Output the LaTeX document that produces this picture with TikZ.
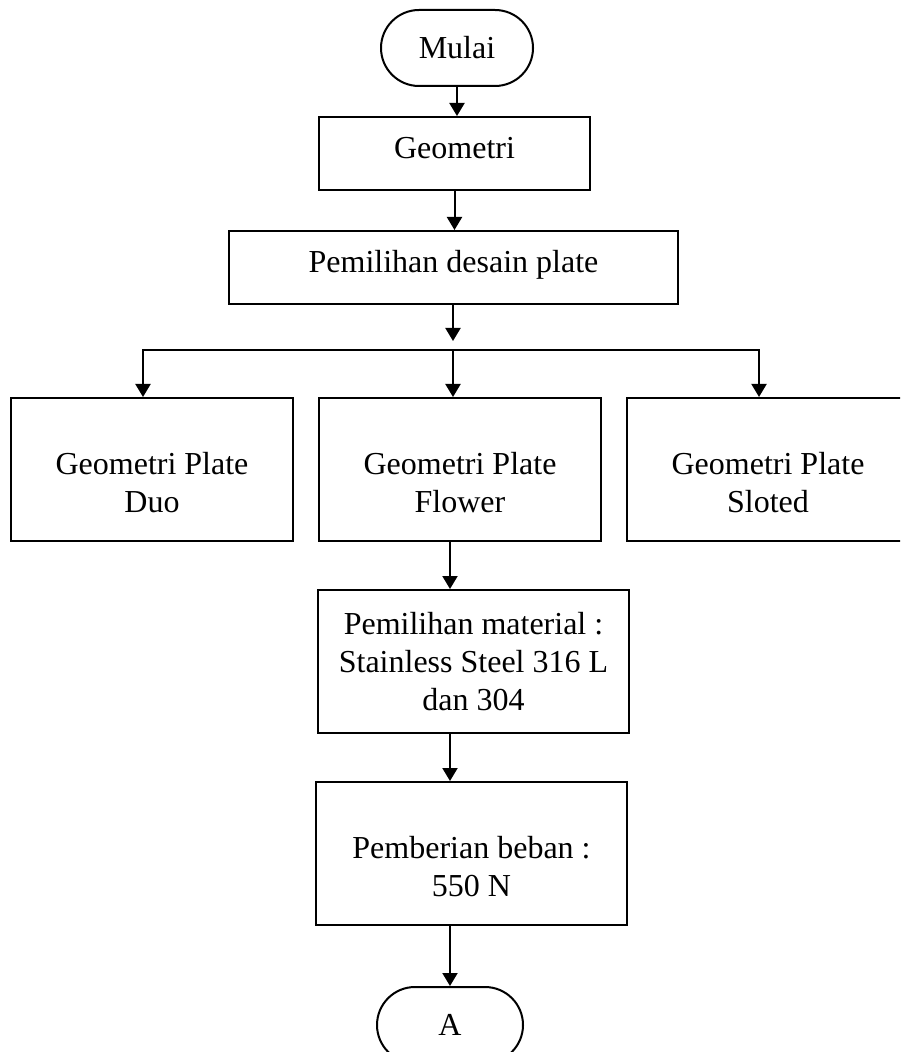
\documentclass[tikz,border=0pt]{standalone}
\usepackage{fontspec}
\setmainfont{Liberation Serif}
\usetikzlibrary{arrows.meta}
\newcommand{\topgap}{\rule{0pt}{24pt}}
\begin{document}
\begin{tikzpicture}[x=0.5pt, y=-0.5pt,
        font=\fontsize{16}{19}\selectfont,
        flowbox/.style={draw, line width=1pt, align=center, inner sep=0pt},
        oneline/.style={flowbox, minimum height=36.5pt, text height=11pt, text depth=6pt},
        twoline/.style={flowbox, minimum width=141pt, minimum height=71.5pt},
        terminal/.style={flowbox, rounded corners=19pt, minimum height=38pt},
        arr/.style={line width=1pt, -{Triangle[length=6.5pt, width=7.5pt]}}]
    \clip (0,0) rectangle (900,1052);

    % Start and first steps
    \node[terminal, minimum width=76pt] (mulai) at (457,48) {Mulai};
    \node[oneline, minimum width=135.5pt] (geometri) at (454.5,153.5) {Geometri};
    \node[oneline, minimum width=224.5pt] (desain) at (453.5,267.5) {Pemilihan desain plate};

    % Plate designs
    \foreach \name/\cx/\txt in {duo/152/Duo, flower/460/Flower, sloted/768/Sloted}
        \node[twoline] (\name) at (\cx,469.5) {\topgap Geometri Plate\\\txt};

    % Material, load and connector
    \node[flowbox, minimum width=155.5pt, minimum height=71.5pt] (material) at (473.5,661.5)
        {Pemilihan material :\\Stainless Steel 316 L\\dan 304};
    \node[twoline, minimum width=155.5pt] (beban) at (471.5,853.5)
        {\topgap Pemberian beban :\\550 N};
    \node[terminal, minimum width=73pt] (konektor) at (450,1025) {A};

    % Arrows
    \draw[arr] (mulai.south) -- (mulai.south |- geometri.north);
    \draw[arr] (geometri.south) -- (geometri.south |- desain.north);
    \coordinate (split) at (453,350);
    \draw[arr] (desain.south -| split) -- ([yshift=4.5pt]split);
    \draw[arr] (split) -| ([xshift=-4.5pt]duo.north);
    \draw[arr] (split) -- (split |- flower.north);
    \draw[arr] (split) -| ([xshift=-4.5pt]sloted.north);
    \draw[arr] (flower.south -| konektor) -- (material.north -| konektor);
    \draw[arr] (material.south -| konektor) -- (beban.north -| konektor);
    \draw[arr] (beban.south -| konektor) -- (konektor.north);
\end{tikzpicture}
\end{document}
